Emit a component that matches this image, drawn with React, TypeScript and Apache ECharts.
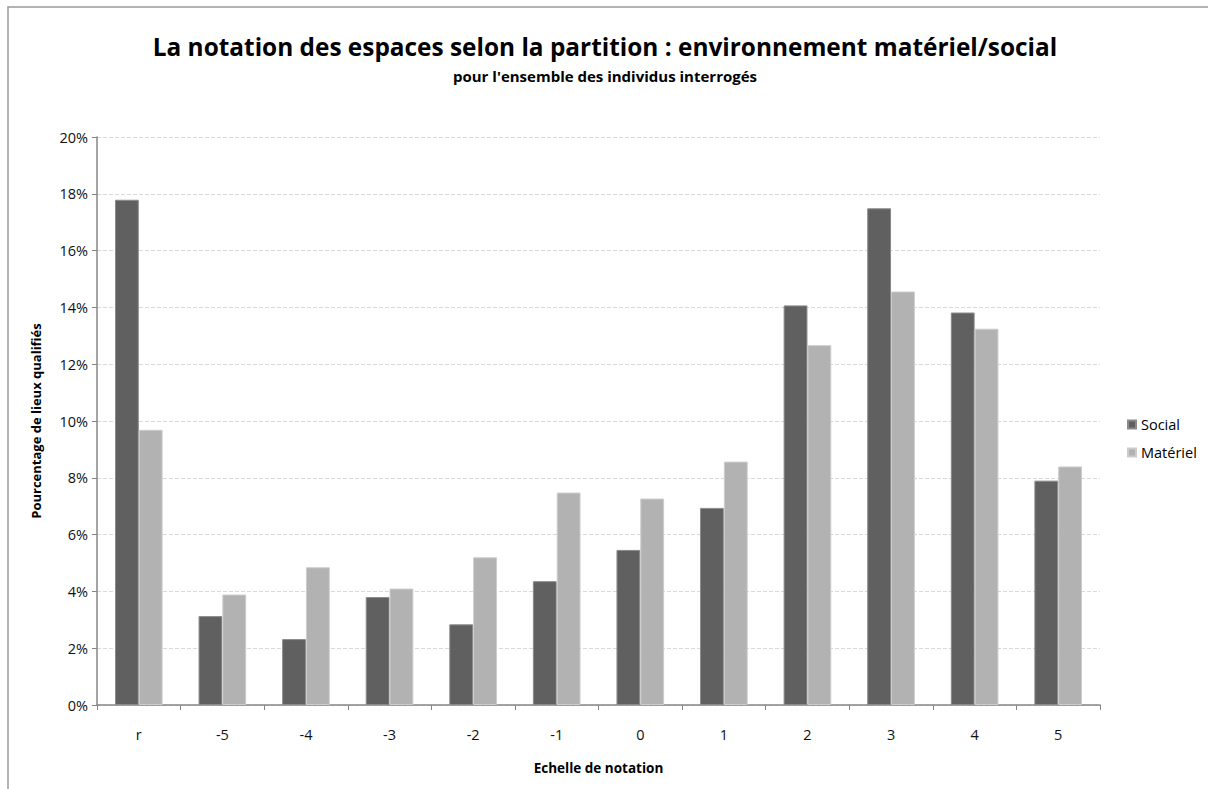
import React, { useEffect, useRef } from "react";
import * as echarts from "echarts";

const categories = ["r", "-5", "-4", "-3", "-2", "-1", "0", "1", "2", "3", "4", "5"];
const socialValues = [17.79, 3.13, 2.32, 3.8, 2.84, 4.36, 5.46, 6.94, 14.07, 17.49, 13.82, 7.9];
const materielValues = [9.69, 3.89, 4.85, 4.1, 5.2, 7.48, 7.27, 8.57, 12.67, 14.56, 13.25, 8.4];
const seriesNames = ["Social", "Matériel"];

const FONT = "'Open Sans', 'Noto Sans', sans-serif";

export default function App() {
  const ref = useRef<HTMLDivElement>(null);
  useEffect(() => {
    if (!ref.current) return;
    const chart = echarts.init(ref.current, undefined, { renderer: "svg" });
    chart.setOption({
      animation: false,
      backgroundColor: "#ffffff",
      textStyle: { fontFamily: FONT },
      title: {
        text: "La notation des espaces selon la partition : environnement matériel/social",
        subtext: "pour l'ensemble des individus interrogés",
        left: 600,
        textAlign: "center",
        top: 29,
        itemGap: 10,
        textStyle: { fontFamily: FONT, fontSize: 24.4, fontWeight: "bold", color: "#000" },
        subtextStyle: { fontFamily: FONT, fontSize: 15, fontWeight: "bold", color: "#000" },
      },
      legend: {
        orient: "vertical",
        left: 1122,
        top: 412,
        itemWidth: 8,
        itemHeight: 8,
        itemGap: 13,
        icon: "rect",
        data: seriesNames,
        textStyle: { fontFamily: FONT, fontSize: 14.5, color: "#000" },
      },
      graphic: [
        {
          type: "rect",
          shape: { x: 8, y: 7, width: 1260, height: 860 },
          style: { fill: "none", stroke: "#9a9a9a", lineWidth: 1.5 },
          silent: true,
        },
      ],
      grid: { left: 97, right: 108, top: 137, bottom: 84, containLabel: false },
      xAxis: {
        type: "category",
        data: categories,
        name: "Echelle de notation",
        nameLocation: "middle",
        nameGap: 56,
        nameTextStyle: { fontFamily: FONT, fontSize: 13.5, fontWeight: "bold", color: "#000" },
        axisLine: { lineStyle: { color: "#868686", width: 1.5 } },
        axisTick: { show: true, length: 5, lineStyle: { color: "#868686" } },
        axisLabel: { fontFamily: FONT, fontSize: 14.5, color: "#111", margin: 22 },
      },
      yAxis: {
        type: "value",
        min: 0,
        max: 20,
        interval: 2,
        name: "Pourcentage de lieux qualifiés",
        nameLocation: "middle",
        nameGap: 55,
        nameTextStyle: { fontFamily: FONT, fontSize: 13, fontWeight: "bold", color: "#000" },
        axisLine: { show: true, lineStyle: { color: "#868686", width: 1.5 } },
        axisTick: { show: true, length: 5, lineStyle: { color: "#868686" } },
        axisLabel: { fontFamily: FONT, fontSize: 14.5, color: "#111", margin: 9, formatter: "{value}%" },
        splitLine: { show: true, lineStyle: { color: "#d9d9d9", type: "dashed", width: 1 } },
      },
      series: [
        {
          name: seriesNames[0],
          type: "bar",
          data: socialValues,
          barGap: "0%",
          barCategoryGap: "43%",
          itemStyle: { color: "#606060", borderColor: "#8a8a8a", borderWidth: 1 },
        },
        {
          name: seriesNames[1],
          type: "bar",
          data: materielValues,
          barGap: "0%",
          barCategoryGap: "43%",
          itemStyle: { color: "#b2b2b2", borderColor: "#cccccc", borderWidth: 1 },
        },
      ],
    });
    return () => chart.dispose();
  }, []);
  return (
    <div
      ref={ref}
      style={{ position: "absolute", left: 0, top: 0, width: 1208, height: 789 }}
    />
  );
}
